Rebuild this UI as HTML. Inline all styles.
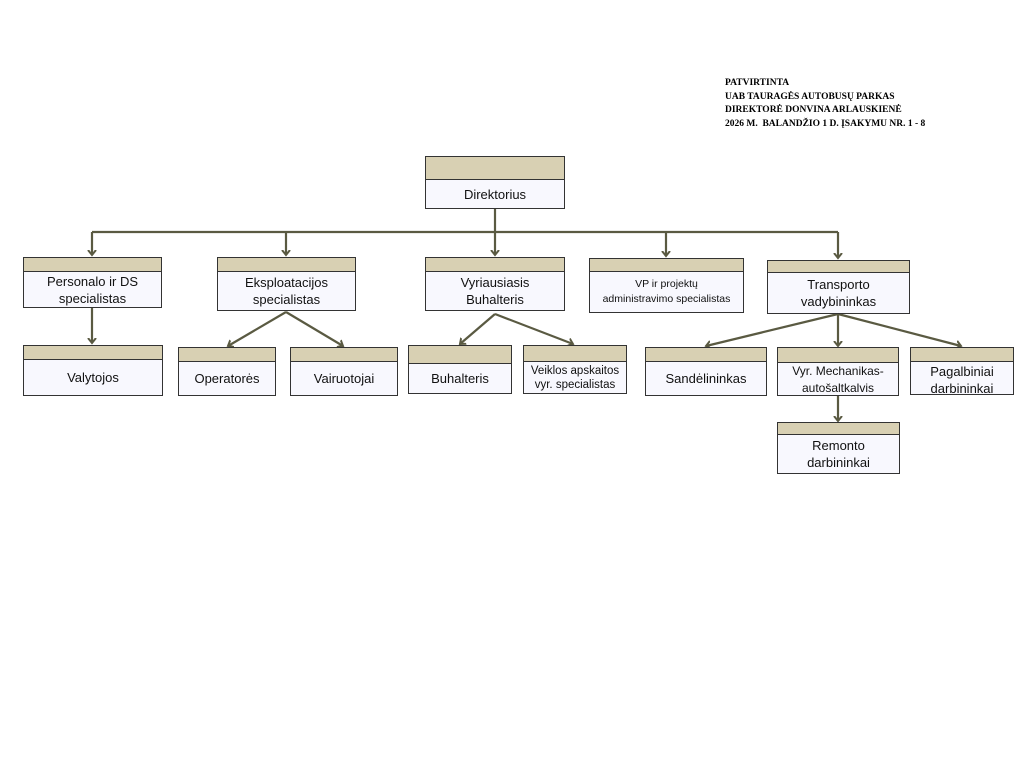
<!DOCTYPE html>
<html><head><meta charset="utf-8"><style>
body{margin:0;width:1024px;height:768px;background:#fff;position:relative;overflow:hidden;font-family:"Liberation Sans",sans-serif}
.b{position:absolute;border:1px solid #333;background:#f8f8fe;box-sizing:border-box;display:flex;flex-direction:column}
.h{background:#d8d0b3;border-bottom:1px solid #333;flex:none}
.t{flex:1;display:flex;align-items:center;justify-content:center;text-align:center;font-size:13px;line-height:17px;color:#111}
.hdr{position:absolute;left:725px;top:77px;font-family:"Liberation Serif",serif;font-weight:bold;font-size:9.5px;line-height:13.5px;color:#000}
svg{position:absolute;left:0;top:0}
</style></head><body>
<div class="hdr">PATVIRTINTA<br>UAB TAURAGĖS AUTOBUSŲ PARKAS<br>DIREKTORĖ DONVINA ARLAUSKIENĖ<br>2026 M.&nbsp; BALANDŽIO 1 D. ĮSAKYMU NR. 1 - 8</div>
<svg width="1024" height="768">
<defs><marker id="a" markerWidth="10" markerHeight="10" refX="5" refY="5" orient="auto" markerUnits="userSpaceOnUse"><path d="M0,1 L5,5 L0,9" fill="none" stroke="#5a5a42" stroke-width="2"/></marker></defs>
<g stroke="#5a5a42" stroke-width="2.2" fill="none">
<line x1="495" y1="208" x2="495" y2="232"/>
<line x1="92" y1="232" x2="838" y2="232"/>
<line x1="92" y1="232" x2="92" y2="255" marker-end="url(#a)"/>
<line x1="286" y1="232" x2="286" y2="255" marker-end="url(#a)"/>
<line x1="495" y1="232" x2="495" y2="255" marker-end="url(#a)"/>
<line x1="666" y1="232" x2="666" y2="256" marker-end="url(#a)"/>
<line x1="838" y1="232" x2="838" y2="258" marker-end="url(#a)"/>
<line x1="92" y1="307" x2="92" y2="343" marker-end="url(#a)"/>
<line x1="286" y1="312" x2="228" y2="346" marker-end="url(#a)"/>
<line x1="286" y1="312" x2="343" y2="346" marker-end="url(#a)"/>
<line x1="495" y1="314" x2="460" y2="344" marker-end="url(#a)"/>
<line x1="495" y1="314" x2="573" y2="344" marker-end="url(#a)"/>
<line x1="838" y1="314" x2="706" y2="346" marker-end="url(#a)"/>
<line x1="838" y1="314" x2="838" y2="346" marker-end="url(#a)"/>
<line x1="838" y1="314" x2="961" y2="346" marker-end="url(#a)"/>
<line x1="838" y1="395" x2="838" y2="421" marker-end="url(#a)"/>
</g></svg>
<div class="b" style="left:425px;top:156px;width:140px;height:53px"><div class="h" style="height:22px"></div><div class="t">Direktorius</div></div>
<div class="b" style="left:23px;top:257px;width:139px;height:51px"><div class="h" style="height:13px"></div><div class="t">Personalo ir DS<br>specialistas</div></div>
<div class="b" style="left:217px;top:257px;width:139px;height:54px"><div class="h" style="height:13px"></div><div class="t">Eksploatacijos<br>specialistas</div></div>
<div class="b" style="left:425px;top:257px;width:140px;height:54px"><div class="h" style="height:13px"></div><div class="t">Vyriausiasis<br>Buhalteris</div></div>
<div class="b" style="left:589px;top:258px;width:155px;height:55px"><div class="h" style="height:12px"></div><div class="t" style="font-size:10.5px;line-height:15px">VP ir projektų<br>administravimo specialistas</div></div>
<div class="b" style="left:767px;top:260px;width:143px;height:54px"><div class="h" style="height:11px"></div><div class="t">Transporto<br>vadybininkas</div></div>
<div class="b" style="left:23px;top:345px;width:140px;height:51px"><div class="h" style="height:13px"></div><div class="t">Valytojos</div></div>
<div class="b" style="left:178px;top:347px;width:98px;height:49px"><div class="h" style="height:13px"></div><div class="t">Operatorės</div></div>
<div class="b" style="left:290px;top:347px;width:108px;height:49px"><div class="h" style="height:13px"></div><div class="t">Vairuotojai</div></div>
<div class="b" style="left:408px;top:345px;width:104px;height:49px"><div class="h" style="height:17px"></div><div class="t">Buhalteris</div></div>
<div class="b" style="left:523px;top:345px;width:104px;height:49px"><div class="h" style="height:15px"></div><div class="t" style="font-size:11.5px;line-height:14px">Veiklos apskaitos<br>vyr. specialistas</div></div>
<div class="b" style="left:645px;top:347px;width:122px;height:49px"><div class="h" style="height:13px"></div><div class="t">Sandėlininkas</div></div>
<div class="b" style="left:777px;top:347px;width:122px;height:49px"><div class="h" style="height:14px"></div><div class="t" style="font-size:12px;line-height:17px">Vyr. Mechanikas-<br>autošaltkalvis</div></div>
<div class="b" style="left:910px;top:347px;width:104px;height:48px"><div class="h" style="height:13px"></div><div class="t" style="align-items:flex-start;padding-top:1px">Pagalbiniai<br>darbininkai</div></div>
<div class="b" style="left:777px;top:422px;width:123px;height:52px"><div class="h" style="height:11px"></div><div class="t">Remonto<br>darbininkai</div></div>
</body></html>
